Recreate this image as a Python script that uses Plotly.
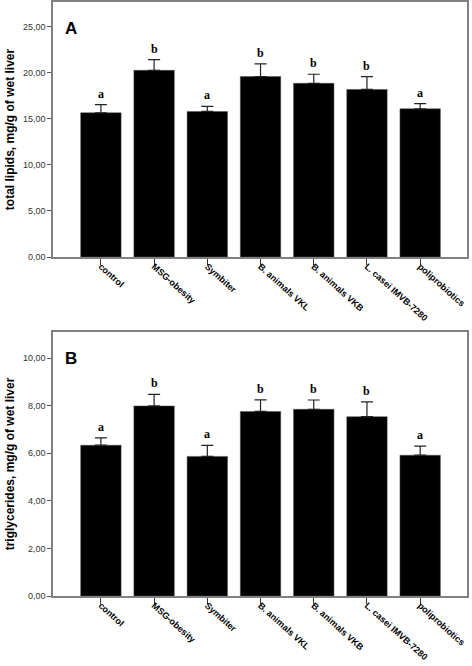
import plotly.graph_objects as go
from plotly.subplots import make_subplots

categories = ["control", "MSG-obesity", "Symbiter", "B. animals VKL",
              "B. animals VKB", "L. casei IMVB-7280", "poliprobiotics"]

lipids_mean = [15.67, 20.28, 15.81, 19.60, 18.87, 18.20, 16.10]
lipids_err = [0.88, 1.17, 0.55, 1.37, 0.98, 1.40, 0.55]
lipids_letters = ["a", "b", "a", "b", "b", "b", "a"]

tg_mean = [6.34, 7.99, 5.87, 7.76, 7.85, 7.54, 5.92]
tg_err = [0.31, 0.49, 0.46, 0.49, 0.39, 0.62, 0.38]
tg_letters = ["a", "b", "a", "b", "b", "b", "a"]

lipids_ticks = [0, 5, 10, 15, 20, 25]
tg_ticks = [0, 2, 4, 6, 8, 10]

W, H = 472, 666
fig = make_subplots(rows=2, cols=1)

def px_y(p):
    return 1 - p / H

dom_x = [53 / W, 467 / W]
domA = [px_y(257), px_y(2)]
domB = [px_y(596), px_y(332)]

panels = [
    (1, lipids_mean, lipids_err, lipids_letters, lipids_ticks, [0, 27.7],
     "total lipids, mg/g of wet liver", domA, "A"),
    (2, tg_mean, tg_err, tg_letters, tg_ticks, [0, 11.1],
     "triglycerides, mg/g of wet liver", domB, "B"),
]

frame = "#808080"
for row, means, errs, letters, ticks, yr, title, dom, tag in panels:
    fig.add_trace(go.Bar(
        x=categories, y=means, width=0.76,
        marker=dict(color="black", line=dict(color="#555555", width=0.5)),
        error_y=dict(type="data", array=errs, arrayminus=[0] * len(errs),
                     symmetric=False, color="#222222", thickness=1.2, width=6),
        showlegend=False, hoverinfo="skip",
    ), row=row, col=1)
    axn = "" if row == 1 else "2"
    for c, m, e, l in zip(categories, means, errs, letters):
        fig.add_annotation(x=c, y=m + e, text="<b>" + l + "</b>", showarrow=False,
                           yanchor="bottom", yshift=2, xref="x" + axn, yref="y" + axn,
                           font=dict(family="Liberation Serif", size=12, color="black"))
    fig.add_annotation(x=(63 - 53) / 414, y=1 - (15 / ((dom[1] - dom[0]) * H)),
                       xref="x" + axn + " domain", yref="y" + axn + " domain",
                       text="<b>" + tag + "</b>", showarrow=False,
                       xanchor="left", yanchor="top",
                       font=dict(family="Liberation Sans", size=17, color="black"))
    fig.update_xaxes(domain=dom_x, range=[-0.9, 6.88], showline=True, linecolor=frame,
                     linewidth=1.5, mirror=True, ticks="outside", ticklen=6,
                     tickcolor="#333333", tickangle=42, automargin=False,
                     ticklabelstandoff=-7,
                     tickfont=dict(family="Liberation Sans", size=9, color="black",
                                   weight="bold"),
                     showgrid=False, zeroline=False, row=row, col=1)
    fig.update_yaxes(domain=dom, range=yr, tickvals=ticks, tickformat=".2f",
                     showline=True, linecolor=frame, linewidth=1.5, mirror=True,
                     ticks="outside", ticklen=4, tickcolor="#555555", automargin=False,
                     tickfont=dict(family="Liberation Sans", size=9, color="#333333"),
                     title=dict(text="<b>" + title + "</b>", standoff=6,
                                font=dict(family="Liberation Sans", size=12, color="black")),
                     showgrid=False, zeroline=False, row=row, col=1)

fig.update_layout(width=W, height=H, margin=dict(l=0, r=0, t=0, b=0),
                  plot_bgcolor="white", paper_bgcolor="white",
                  separators=",.", bargap=0.25)
fig.write_html("out.html", config={"displayModeBar": False},
               post_script="document.body.style.margin='0';document.body.style.overflow='hidden';")
